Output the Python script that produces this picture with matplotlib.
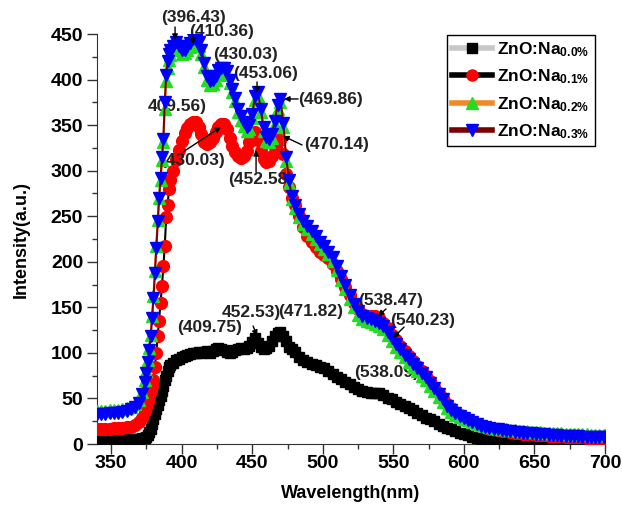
import matplotlib
matplotlib.use("Agg")
from matplotlib import pyplot as plt
from matplotlib.lines import Line2D

plt.rcParams['font.family'] = ['Liberation Sans', 'DejaVu Sans']
plt.rcParams['mathtext.default'] = 'regular'

# wavelength grid (nm), shared by all four spectra
wavelength = (list(range(340, 371, 3)) + [372] + list(range(374, 393)) + list(range(394, 481, 2))
              + list(range(483, 601, 3)) + list(range(603, 700, 3)) + [700])

na_00 = [6, 6, 6, 6, 6, 6, 6, 6, 6, 6, 6,
         7,
         7, 8, 10, 13, 17, 22, 27, 33, 38, 43, 48, 53, 58, 64, 70, 75, 80, 84, 87,
         89, 92, 93, 95, 97, 98, 99, 100, 100, 101, 100, 101, 102, 100, 102, 104, 105, 104, 103, 101,
         100, 101, 103, 104, 105, 104, 105, 108, 112, 116, 111, 106, 104, 105, 108, 113, 118, 122, 123, 119,
         113, 106, 104, 101,
         95, 92, 90, 88, 87, 85, 83, 80, 77, 74, 71, 68, 66, 63, 60, 58, 57, 56, 56, 56,
         54, 51, 49, 46, 44, 42, 39, 37, 34, 32, 29, 27, 25, 22, 20, 18, 16, 14, 12, 11,
         10, 8, 7, 6, 6, 5, 4, 4, 3, 3, 2, 2, 2, 1, 1, 1, 1, 1, 1, 1,
         1, 1, 1, 1, 1, 1, 1, 1, 1, 1, 1, 1, 1, 1]

na_01 = [17, 17, 17, 17, 18, 18, 18, 19, 19, 21, 24,
         29,
         36, 41, 47, 53, 58, 64, 70, 85, 100, 118, 135, 155, 173, 195, 217, 249, 262, 280, 290,
         300, 312, 323, 333, 341, 347, 351, 353, 353, 348, 340, 332, 329, 331, 336, 342, 348, 351, 351, 346,
         336, 327, 320, 316, 314, 316, 322, 332, 341, 342, 334, 322, 313, 310, 311, 316, 326, 334, 334, 318,
         296, 282, 270, 262,
         250, 238, 228, 222, 216, 211, 207, 204, 198, 190, 181, 172, 163, 155, 148, 143, 141, 140, 140, 138,
         133, 127, 120, 114, 108, 102, 97, 91, 86, 80, 75, 69, 63, 56, 50, 44, 39, 35, 32, 29,
         26, 24, 22, 20, 19, 17, 16, 15, 14, 14, 13, 12, 12, 11, 11, 11, 10, 10, 10, 9,
         9, 9, 9, 8, 8, 8, 8, 8, 7, 7, 7, 7, 7, 7]

na_02 = [36, 36, 36, 37, 37, 37, 38, 39, 41, 44, 48,
         57,
         70, 80, 92, 105, 120, 140, 162, 190, 217, 246, 270, 290, 312, 332, 368, 398, 413, 422, 427,
         433, 437, 433, 428, 429, 433, 436, 440, 441, 437, 428, 414, 400, 394, 395, 400, 406, 409, 410, 405,
         396, 386, 376, 364, 356, 349, 344, 346, 358, 378, 382, 364, 344, 333, 331, 336, 351, 368, 375, 348,
         311, 287, 269, 259,
         249, 242, 236, 231, 225, 219, 214, 208, 201, 191, 180, 170, 159, 150, 142, 137, 135, 134, 132, 130,
         126, 120, 113, 107, 101, 95, 90, 85, 80, 75, 70, 64, 58, 52, 46, 40, 35, 32, 30, 27,
         26, 24, 22, 21, 20, 19, 18, 17, 16, 16, 15, 15, 14, 14, 14, 13, 13, 13, 12, 12,
         12, 12, 12, 11, 11, 11, 11, 11, 11, 10, 10, 10, 10, 10]

na_03 = [33, 33, 33, 34, 34, 34, 35, 36, 38, 41, 45,
         55,
         68, 78, 90, 103, 118, 138, 160, 188, 215, 245, 270, 292, 315, 335, 375, 405, 420, 428, 433,
         437, 441, 437, 432, 433, 437, 440, 444, 445, 441, 432, 418, 404, 398, 399, 404, 410, 413, 413, 409,
         400, 390, 380, 368, 360, 353, 348, 350, 362, 382, 386, 368, 348, 337, 335, 340, 355, 372, 379, 352,
         315, 290, 272, 262,
         252, 245, 239, 234, 228, 222, 217, 211, 205, 195, 184, 174, 163, 154, 146, 140, 138, 137, 135, 133,
         129, 123, 116, 110, 104, 98, 93, 88, 83, 78, 73, 67, 61, 55, 49, 42, 37, 34, 31, 28,
         26, 24, 22, 20, 19, 18, 17, 16, 15, 14, 14, 13, 13, 12, 12, 12, 11, 11, 11, 10,
         10, 10, 9, 9, 9, 9, 9, 8, 8, 8, 8, 8, 8, 8]

labels = ['ZnO:Na$_{0.0\\%}$', 'ZnO:Na$_{0.1\\%}$', 'ZnO:Na$_{0.2\\%}$', 'ZnO:Na$_{0.3\\%}$']

# peak labels: (text, x, y)
peak_text = [
    ('(396.43)', 408.7, 467.6), ('(410.36)', 428.6, 452.3), ('(430.03)', 444.9, 427.0),
    ('(453.06)', 459.1, 407.2), ('(469.86)', 505.1, 377.6), ('409.56)', 396.7, 369.9),
    ('(430.03)', 408.0, 311.7), ('(452.58)', 456.0, 289.8), ('(470.14)', 510.1, 328.2),
    ('(538.47)', 547.7, 157.0), ('(540.23)', 571.0, 136.1), ('(538.09)', 545.5, 79.0),
    ('(409.75)', 420.1, 128.4), ('452.53)', 449.1, 143.8), ('(471.82)', 491.7, 144.9),
]
# pointer arrows: (tail, tip)
peak_arrows = [
    ((395.3, 457.7), (395.3, 443.5)), ((408.0, 447.9), (408.0, 439.0)),
    ((453.4, 397.4), (453.4, 385.3)), ((482.5, 378.7), (472.5, 378.7)),
    ((400.9, 320.5), (427.9, 348.0)), ((452.7, 298.6), (452.7, 322.7)),
    ((485.3, 328.2), (471.8, 338.1)), ((544.8, 148.2), (539.1, 140.5)),
    ((557.6, 128.4), (549.8, 116.4)), ((450.6, 129.5), (453.4, 118.6)),
]

fig = plt.figure(figsize=(6.22, 5.13), dpi=100)
ax = fig.add_axes([0.156, 0.1345, 0.8167, 0.7992])

ax.plot(wavelength, na_00, color='#c0c0c0', lw=1.5, marker='s', ms=7,
        mfc='black', mec='black', zorder=3)
ax.plot(wavelength, na_01, color='black', lw=1.5, marker='o', ms=8.5,
        mfc='red', mec='red', zorder=4)
ax.plot(wavelength, na_02, color='#ff8c1a', lw=1.5, marker='^', ms=8,
        mfc='#22dd22', mec='#22dd22', zorder=5)
ax.plot(wavelength, na_03, color='#800000', lw=1.5, marker='v', ms=8,
        mfc='blue', mec='blue', zorder=6)

# labels sit above the red curve but under the green/blue markers
for txt, x, y in peak_text:
    ax.text(x, y, txt, ha='center', va='center', fontsize=12.5, fontweight='bold',
            color='#222222', zorder=4.5, clip_on=False)
for tail, tip in peak_arrows:
    ax.annotate('', xy=tip, xytext=tail, annotation_clip=False, zorder=7,
                arrowprops=dict(arrowstyle='-|>', color='black', lw=1, mutation_scale=8,
                                shrinkA=0, shrinkB=0))

handles = [
    Line2D([], [], color='#c8c8c8', lw=4, marker='s', ms=7, mfc='black', mec='black'),
    Line2D([], [], color='black', lw=4, marker='o', ms=8, mfc='red', mec='red'),
    Line2D([], [], color='#f08a24', lw=4, marker='^', ms=8, mfc='#22dd22', mec='#22dd22'),
    Line2D([], [], color='#7a0000', lw=4, marker='v', ms=8, mfc='blue', mec='blue'),
]
leg = ax.legend(handles, labels, loc='upper left', bbox_to_anchor=(0.689, 0.998),
                borderaxespad=0, fancybox=False, framealpha=1, edgecolor='black',
                handlelength=2.3, handletextpad=0.3, borderpad=0.3, numpoints=1,
                labelspacing=0.5, prop={'size': 12.5, 'weight': 'bold'})
leg.get_frame().set_linewidth(1.0)

ax.set_xlim(340, 700)
ax.set_ylim(0, 450)
ax.set_xticks(range(350, 701, 50))
ax.set_xticks(range(350, 701, 25), minor=True)
ax.set_yticks(range(0, 451, 50))
ax.set_yticks(range(0, 451, 25), minor=True)

for side in ['top', 'right']:
    ax.spines[side].set_visible(False)
for side in ['left', 'bottom']:
    ax.spines[side].set_color('#333333')

ax.tick_params(which='major', direction='out', length=7, width=1, labelsize=14, color='#333333')
ax.tick_params(which='minor', direction='out', length=3.5, width=1, color='#333333')
ax.tick_params(axis='x', pad=1)
ax.tick_params(axis='y', pad=3)
for lab in ax.get_xticklabels() + ax.get_yticklabels():
    lab.set_fontweight('bold')

ax.set_xlabel('Wavelength(nm)', fontsize=13, fontweight='bold', labelpad=9)
ax.set_ylabel('Intensity(a.u.)', fontsize=13, fontweight='bold', labelpad=15)

fig.savefig('out.png', dpi=100)
